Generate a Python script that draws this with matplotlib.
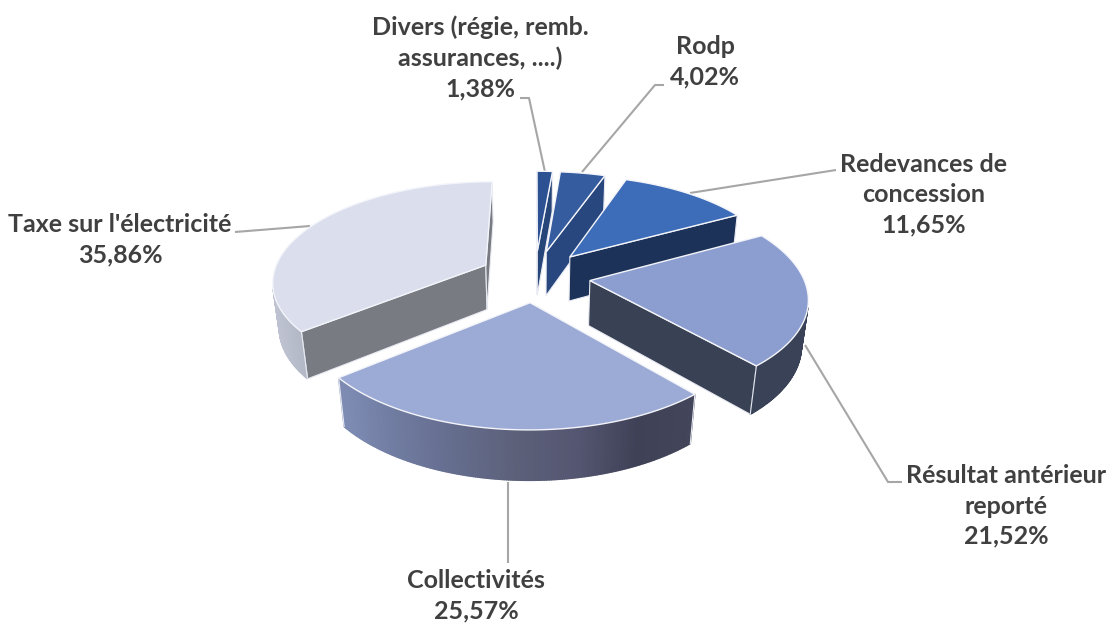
import numpy as np
from matplotlib import pyplot as plt
from matplotlib.colors import LinearSegmentedColormap
from matplotlib.patches import Polygon

names = ["Divers (régie, remb.\nassurances, ....)", "Rodp", "Redevances de\nconcession",
         "Résultat antérieur\nreporté", "Collectivités", "Taxe sur l'électricité"]
values = [1.38, 4.02, 11.65, 21.52, 25.57, 35.86]

top_colors = ["#2b5193", "#355c9f", "#3d6cb9", "#8c9ed0", "#9cabd6", "#dadeed"]
cut_colors = ["#264679", "#27477e", "#1c3258", "#394154", "#394154", "#787b81"]
rim_colors = [["#264679"], ["#27477e"], ["#1c3258"], ["#3a4258"],
              ["#7f8db5", "#6f7a9f", "#646c8c", "#5c6079", "#555671", "#3f4257", "#43465a"],
              ["#c0c4d2", "#b4b9c8"]]
draw_order = [0, 1, 2, 5, 3, 4]

# position des textes (centre) et traits de rappel, en pixels
label_pos = [(480, 58), (705, 62), (924, 195), (1006, 506), (476, 596), (120, 240)]
leaders = [[(520, 98), (529, 98), (545, 172)],
           [(664, 85), (655, 85), (582, 172)],
           [(836, 170), (690, 193)],
           [(805, 345), (888, 482), (902, 482)],
           [(508, 482), (508, 563)],
           [(235, 232), (310, 226)]]

cx, cy = 535, 276
A, B, H = 213, 99, 46
k, kz, expl = 0.151, 0.025, 0.26


def project(x, y, z):
    w = 1 + k * y + kz * z
    return cx + A * x / w, cy + (-B * y + H * z) / w


def is_visible(pts):
    xs, ys = pts[:, 0], pts[:, 1]
    return np.sum(xs * np.roll(ys, -1) - np.roll(xs, -1) * ys) < 0


fig = plt.figure(figsize=(11.14, 6.25), dpi=100)
ax = fig.add_axes([0, 0, 1, 1])
ax.set_xlim(0, 1114)
ax.set_ylim(625, 0)
ax.axis("off")

for line in leaders:
    xs, ys = zip(*line)
    ax.plot(xs, ys, color="#a6a6a6", lw=1.5, zorder=1, solid_capstyle="butt")

bounds = np.cumsum([0] + values) / sum(values) * 2 * np.pi
z = 2
for i in draw_order:
    a0, a1 = bounds[i], bounds[i + 1]
    mid = (a0 + a1) / 2
    ox, oy = expl * np.sin(mid), expl * np.cos(mid)
    t = np.linspace(a0, a1, max(int(np.degrees(a1 - a0) * 2), 4))
    rx, ry = ox + np.sin(t), oy + np.cos(t)
    rim_top = np.column_stack(project(rx, ry, 0))
    rim_bot = np.column_stack(project(rx, ry, 1))
    apex_top = np.array(project(ox, oy, 0))
    apex_bot = np.array(project(ox, oy, 1))

    # faces coupees
    for a, b, c, d in [(apex_top, rim_top[0], rim_bot[0], apex_bot),
                       (rim_top[-1], apex_top, apex_bot, rim_bot[-1])]:
        quad = np.array([a, b, c, d])
        if is_visible(quad):
            ax.add_patch(Polygon(quad, closed=True, fc=cut_colors[i], ec="#e8eaf2", lw=0.8, zorder=z))
            z += 1

    # bord exterieur
    cols = rim_colors[i]
    cmap = LinearSegmentedColormap.from_list("rim", cols if len(cols) > 1 else cols * 2)
    keep = [j for j in range(len(t) - 1)
            if is_visible(np.array([rim_top[j], rim_top[j + 1], rim_bot[j + 1], rim_bot[j]]))]
    if keep:
        xmin, xmax = rim_top[keep, 0].min(), rim_top[keep, 0].max()
        for j in keep:
            quad = np.array([rim_top[j], rim_top[j + 1], rim_bot[j + 1], rim_bot[j]])
            c = cmap((quad[:, 0].mean() - xmin) / (xmax - xmin))
            ax.add_patch(Polygon(quad, closed=True, fc=c, ec=c, lw=1.0, zorder=z))
        z += 1
        # trait clair seulement aux vraies extremites de la part
        for j in (keep[0], keep[-1] + 1):
            if j == 0 or j == len(t) - 1:
                ax.plot([rim_top[j, 0], rim_bot[j, 0]], [rim_top[j, 1], rim_bot[j, 1]],
                        color="#e8eaf2", lw=0.8, zorder=z)
        z += 1

    top = np.vstack([apex_top, rim_top])
    ax.add_patch(Polygon(top, closed=True, fc=top_colors[i], ec="#f4f5fa", lw=1.0, zorder=z, joinstyle="miter"))
    z += 1

for name, val, (x, y) in zip(names, values, label_pos):
    txt = name + "\n" + "{:.2f}%".format(val).replace(".", ",")
    ax.text(x, y, txt, ha="center", va="center", family="Lato", weight="bold",
            fontsize=18, color="#404040", linespacing=1.38, zorder=50)

fig.savefig("out.png", dpi=100)
